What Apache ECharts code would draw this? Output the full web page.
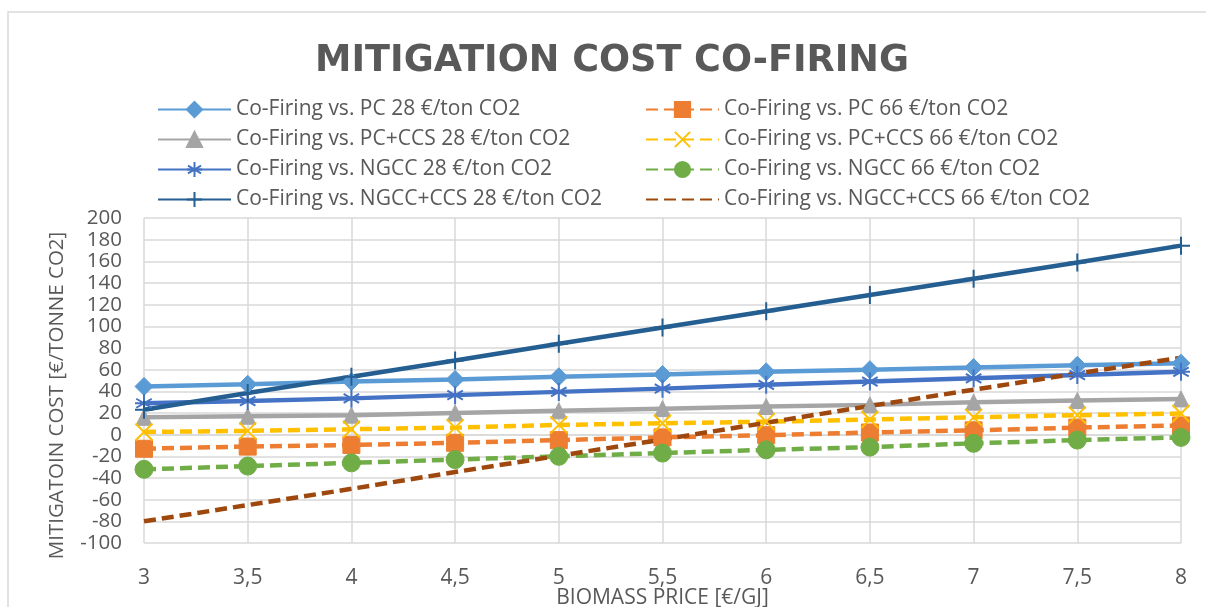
<!DOCTYPE html>
<html>
<head>
<meta charset="utf-8">
<title>Mitigation cost co-firing</title>
<script src="https://cdn.jsdelivr.net/npm/echarts@6/dist/echarts.min.js"></script>
<style>
  html, body { margin: 0; padding: 0; background: #ffffff; }
  #chart { width: 1206px; height: 607px; }
</style>
</head>
<body>
<div id="chart"></div>
<script>
// Biomass price [€/GJ]
const biomassPrice = ['3', '3,5', '4', '4,5', '5', '5,5', '6', '6,5', '7', '7,5', '8'];

// Mitigation cost [€/tonne CO2] at a CO2 price of 28 €/ton
const pc28       = [44.5, 46.5, 49, 51, 53.5, 55.5, 58, 60, 62, 64, 66];
const pcCcs28    = [16, 17, 18, 20, 22, 24, 26, 27.5, 30, 31.5, 33];
const ngcc28     = [29, 31, 33.5, 36.5, 39.5, 42.5, 46, 49, 52, 55, 58];
const ngccCcs28  = [23, 38.5, 53.5, 68.5, 84, 99, 114, 129, 144, 159, 174.5];

// Mitigation cost [€/tonne CO2] at a CO2 price of 66 €/ton
const pc66       = [-13, -11, -9.5, -7.5, -5, -2.5, -0.5, 2, 4, 6.5, 8.5];
const pcCcs66    = [2.5, 3.5, 5, 6.5, 9, 10.5, 12, 14, 16, 18, 19.5];
const ngcc66     = [-32, -29, -26, -23, -20, -17, -14, -11.5, -8, -5, -2.5];
const ngccCcs66  = [-80, -65, -50, -34.5, -19.5, -4.5, 11, 26.5, 41.5, 56.5, 71];

const seriesNames = [
  'Co-Firing vs. PC 28 €/ton CO2',
  'Co-Firing vs. PC+CCS 28 €/ton CO2',
  'Co-Firing vs. NGCC 28 €/ton CO2',
  'Co-Firing vs. NGCC+CCS 28 €/ton CO2',
  'Co-Firing vs. PC 66 €/ton CO2',
  'Co-Firing vs. PC+CCS 66 €/ton CO2',
  'Co-Firing vs. NGCC 66 €/ton CO2',
  'Co-Firing vs. NGCC+CCS 66 €/ton CO2'
];

const FONT = 'Open Sans';
const TEXT = '#595959';
const GRID = '#d9d9d9';

// stroke-only marker shapes
const STAR  = 'path://M5,0L5,10M0.7,2.5L9.3,7.5M9.3,2.5L0.7,7.5M0,5L10,5';
const CROSS = 'path://M0,0L10,10M10,0L0,10';
const PLUS  = 'path://M5,0L5,10M0,5L10,5';

function lineSeries(name, data, color, symbol, size, dashed, strokeMarker) {
  return {
    name: name,
    type: 'line',
    data: data,
    symbol: symbol,
    symbolSize: size,
    showSymbol: symbol !== 'none',
    lineStyle: { color: color, width: 4.5, type: dashed ? [12, 6] : 'solid' },
    itemStyle: strokeMarker
      ? { color: color, borderColor: color, borderWidth: 2 }
      : { color: color, borderColor: color, borderWidth: 1 },
    emphasis: { disabled: true }
  };
}

const chart = echarts.init(document.getElementById('chart'), null, { renderer: 'canvas' });

const legendCommon = {
  orient: 'vertical',
  top: 99,
  padding: 0,
  itemWidth: 73,
  itemHeight: 19,
  itemGap: 9,
  textStyle: { fontFamily: FONT, fontSize: 21, color: TEXT },
  selectedMode: false
};

// the last series is drawn without markers, so its key shows the line only
const rightKeys = seriesNames.slice(4, 7).concat([{
  name: seriesNames[7],
  itemStyle: { color: 'rgba(0,0,0,0)', borderColor: 'rgba(0,0,0,0)', borderWidth: 0 }
}]);

chart.setOption({
  animation: false,
  backgroundColor: '#ffffff',
  graphic: [{
    type: 'rect',
    shape: { x: 8, y: 12, width: 1220, height: 620 },
    style: { fill: 'none', stroke: '#d9d9d9', lineWidth: 1.5 },
    silent: true
  }],
  title: {
    text: 'MITIGATION COST CO-FIRING',
    left: 607,
    textAlign: 'center',
    top: 38,
    textStyle: { fontFamily: 'DejaVu Sans', fontSize: 36.6, fontWeight: 'bold', color: TEXT }
  },
  legend: [
    Object.assign({ left: 157, data: seriesNames.slice(0, 4) }, legendCommon),
    Object.assign({ left: 645, data: rightKeys }, legendCommon)
  ],
  grid: { left: 144, right: 25, top: 218, bottom: 64, containLabel: false, outerBoundsMode: 'none' },
  xAxis: {
    type: 'category',
    data: biomassPrice,
    boundaryGap: false,
    name: 'BIOMASS PRICE [€/GJ]',
    nameLocation: 'middle',
    nameGap: 45,
    nameMoveOverlap: false,
    nameTextStyle: { fontFamily: FONT, fontSize: 21, color: TEXT },
    axisLine: { show: true, lineStyle: { color: GRID, width: 1.5 } },
    axisTick: { show: false },
    axisLabel: { fontFamily: FONT, fontSize: 21, color: TEXT, margin: 25 },
    splitLine: { show: true, lineStyle: { color: GRID, width: 1.5 } }
  },
  yAxis: {
    type: 'value',
    min: -100,
    max: 200,
    interval: 20,
    name: 'MITIGATOIN COST [€/TONNE CO2]',
    nameLocation: 'middle',
    nameGap: 76,
    nameMoveOverlap: false,
    nameTextStyle: { fontFamily: FONT, fontSize: 20.5, color: TEXT, padding: [0, 30, 0, 0] },
    axisLine: { show: false },
    axisTick: { show: false },
    axisLabel: {
      fontFamily: FONT, fontSize: 20.5, color: TEXT, margin: 22,
      showMinLabel: true, showMaxLabel: true
    },
    splitLine: { show: true, lineStyle: { color: GRID, width: 1.5 } }
  },
  series: [
    lineSeries(seriesNames[0], pc28,      '#5B9BD5', 'diamond',  18, false, false),
    lineSeries(seriesNames[1], pcCcs28,   '#A5A5A5', 'triangle', 16, false, false),
    lineSeries(seriesNames[2], ngcc28,    '#4472C4', STAR,       18, false, true),
    lineSeries(seriesNames[3], ngccCcs28, '#255E91', PLUS,       18, false, true),
    lineSeries(seriesNames[4], pc66,      '#ED7D31', 'rect',     17, true,  false),
    lineSeries(seriesNames[5], pcCcs66,   '#FFC000', CROSS,      17, true,  true),
    lineSeries(seriesNames[6], ngcc66,    '#70AD47', 'circle',   18, true,  false),
    lineSeries(seriesNames[7], ngccCcs66, '#9E480E', 'none',     0,  true,  false)
  ]
});
</script>
</body>
</html>
